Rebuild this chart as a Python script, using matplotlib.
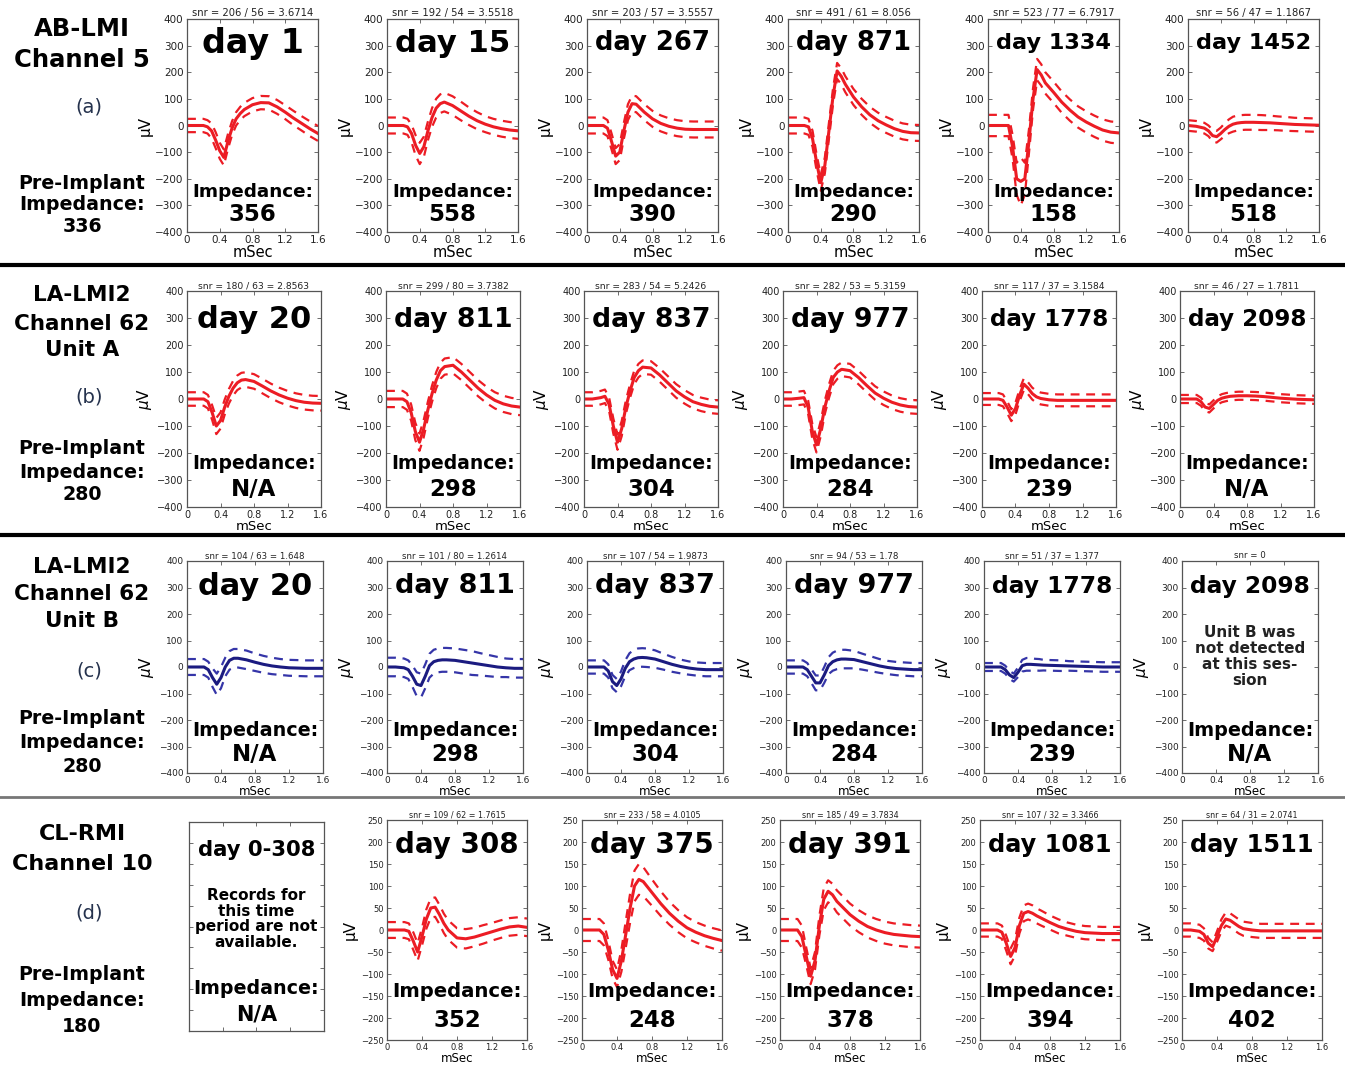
import matplotlib
matplotlib.use('Agg')
import matplotlib.pyplot as plt
from matplotlib.lines import Line2D

# time axis of the spike snippets (ms), shared by every panel
t_ms = [0, 0.1, 0.2, 0.25, 0.3, 0.35, 0.4, 0.45, 0.5, 0.55, 0.6, 0.65, 0.7,
        0.8, 0.9, 1.0, 1.1, 1.2, 1.3, 1.4, 1.5, 1.6]

# ---- (a) AB-LMI channel 5
a_days = ['day 1', 'day 15', 'day 267', 'day 871', 'day 1334', 'day 1452']
a_imp = ['356', '558', '390', '290', '158', '518']
a_snr = ['snr = 206 / 56 = 3.6714', 'snr = 192 / 54 = 3.5518', 'snr = 203 / 57 = 3.5557',
         'snr = 491 / 61 = 8.056', 'snr = 523 / 77 = 6.7917', 'snr = 56 / 47 = 1.1867']
a_mean = [
    [0, 0, 0, -5, -20, -55, -95, -120, -60, -10, 25, 45, 60, 78, 86, 85, 70, 50, 28, 8, -12, -30],
    [0, 0, 0, -5, -30, -75, -105, -80, -20, 30, 65, 82, 88, 75, 55, 35, 18, 5, -5, -12, -17, -20],
    [0, 0, 0, -10, -60, -115, -100, -20, 50, 82, 80, 65, 50, 25, 8, -3, -10, -14, -15, -15, -15, -15],
    [0, 0, 0, -5, -50, -140, -215, -150, -20, 110, 205, 185, 155, 107, 70, 40, 18, 2, -12, -22, -27, -28],
    [0, 0, 0, 0, -80, -200, -210, -200, -60, 100, 210, 190, 160, 125, 88, 58, 32, 13, -3, -17, -25, -28],
    [0, -3, -10, -20, -38, -42, -30, -15, -3, 5, 9, 11, 12, 12, 11, 10, 8, 6, 4, 3, 2, 1],
]
a_sd = [
    [25, 25, 25, 25, 28, 30, 30, 30, 28, 26, 25, 25, 25, 25, 25, 25, 26, 26, 27, 27, 28, 28],
    [30, 30, 30, 30, 33, 38, 40, 38, 35, 35, 35, 35, 35, 35, 35, 33, 32, 30, 30, 30, 30, 30],
    [30, 30, 30, 30, 30, 30, 30, 30, 30, 30, 30, 30, 30, 30, 30, 30, 30, 30, 30, 30, 30, 30],
    [30, 30, 30, 30, 30, 30, 30, 30, 30, 30, 30, 30, 30, 30, 30, 30, 30, 30, 30, 30, 30, 30],
    [40, 40, 40, 40, 45, 60, 90, 60, 45, 40, 40, 40, 40, 40, 40, 40, 40, 40, 40, 40, 40, 40],
    [20, 20, 20, 20, 22, 22, 22, 24, 26, 28, 28, 28, 28, 28, 28, 27, 26, 26, 25, 25, 25, 25],
]

# ---- (b) LA-LMI2 channel 62, unit A
b_days = ['day 20', 'day 811', 'day 837', 'day 977', 'day 1778', 'day 2098']
b_imp = ['N/A', '298', '304', '284', '239', 'N/A']
b_snr = ['snr = 180 / 63 = 2.8563', 'snr = 299 / 80 = 3.7382', 'snr = 283 / 54 = 5.2426',
         'snr = 282 / 53 = 5.3159', 'snr = 117 / 37 = 3.1584', 'snr = 46 / 27 = 1.7811']
b_mean = [
    [0, 0, 0, -10, -50, -100, -80, -30, 10, 40, 60, 70, 72, 65, 48, 30, 15, 3, -6, -12, -15, -16],
    [0, 0, 0, -10, -50, -120, -160, -110, -40, 20, 70, 105, 120, 125, 100, 70, 40, 15, -5, -18, -26, -30],
    [0, 0, 5, 10, -20, -100, -160, -110, -30, 30, 80, 105, 118, 115, 90, 60, 30, 8, -10, -20, -27, -30],
    [0, 0, 3, 5, -30, -120, -170, -110, -30, 30, 80, 100, 110, 105, 80, 50, 22, 3, -12, -22, -28, -30],
    [0, 0, 0, -5, -30, -60, -35, 15, 55, 40, 20, 8, 2, -3, -5, -5, -5, -5, -5, -5, -5, -5],
    [0, 0, 0, -10, -30, -35, -20, -5, 3, 7, 10, 11, 12, 12, 11, 9, 6, 3, 1, -1, -2, -3],
]
b_sd = [
    [25, 25, 25, 25, 27, 30, 30, 28, 27, 27, 27, 27, 27, 27, 27, 27, 27, 27, 27, 27, 27, 27],
    [30, 30, 30, 30, 30, 32, 32, 32, 30, 30, 30, 30, 30, 30, 30, 30, 30, 30, 30, 30, 30, 30],
    [25, 25, 25, 25, 25, 28, 28, 28, 25, 25, 25, 25, 25, 25, 25, 25, 25, 25, 25, 25, 25, 25],
    [25, 25, 25, 25, 25, 28, 28, 28, 25, 25, 25, 25, 25, 25, 25, 25, 25, 25, 25, 25, 25, 25],
    [22, 22, 22, 22, 22, 22, 22, 22, 22, 22, 22, 22, 22, 22, 22, 22, 22, 22, 22, 22, 22, 22],
    [15, 15, 15, 15, 15, 15, 15, 15, 15, 15, 15, 15, 15, 15, 15, 15, 15, 15, 15, 15, 15, 15],
]

# ---- (c) LA-LMI2 channel 62, unit B (last session: unit not found)
c_days = ['day 20', 'day 811', 'day 837', 'day 977', 'day 1778', 'day 2098']
c_imp = ['N/A', '298', '304', '284', '239', 'N/A']
c_snr = ['snr = 104 / 63 = 1.648', 'snr = 101 / 80 = 1.2614', 'snr = 107 / 54 = 1.9873',
         'snr = 94 / 53 = 1.78', 'snr = 51 / 37 = 1.377', 'snr = 0']
c_mean = [
    [0, 0, 0, -10, -40, -65, -40, 0, 25, 33, 33, 30, 27, 18, 10, 4, 0, -3, -4, -5, -5, -5],
    [0, 0, -3, -10, -35, -65, -70, -35, 5, 20, 25, 27, 27, 25, 20, 15, 10, 5, 0, -3, -5, -5],
    [0, 0, 0, -15, -55, -70, -45, -5, 20, 30, 35, 36, 35, 30, 20, 10, 2, -4, -8, -10, -10, -10],
    [0, 0, 0, -10, -35, -60, -60, -30, 5, 20, 27, 30, 30, 28, 20, 12, 4, -2, -6, -8, -10, -10],
    [0, 0, 0, -10, -30, -40, -20, 5, 10, 10, 9, 8, 7, 6, 5, 4, 3, 2, 1, 0, 0, 0],
    None,
]
c_sd = [
    [30, 30, 30, 30, 35, 40, 40, 35, 35, 35, 35, 35, 35, 33, 32, 31, 30, 30, 30, 30, 30, 30],
    [35, 35, 35, 35, 40, 45, 45, 45, 45, 45, 45, 45, 45, 45, 45, 45, 42, 40, 38, 35, 35, 35],
    [25, 25, 25, 25, 25, 25, 28, 30, 32, 34, 35, 35, 35, 33, 30, 28, 26, 25, 25, 25, 25, 25],
    [25, 25, 25, 25, 26, 28, 28, 30, 32, 34, 35, 35, 35, 33, 30, 28, 26, 25, 25, 25, 25, 25],
    [15, 15, 15, 15, 15, 15, 18, 22, 24, 24, 22, 22, 20, 20, 20, 18, 18, 18, 18, 18, 18, 18],
    None,
]

# ---- (d) CL-RMI channel 10 (first period has no recordings)
d_days = ['day 0-308', 'day 308', 'day 375', 'day 391', 'day 1081', 'day 1511']
d_imp = ['N/A', '352', '248', '378', '394', '402']
d_snr = ['', 'snr = 109 / 62 = 1.7615', 'snr = 233 / 58 = 4.0105', 'snr = 185 / 49 = 3.7834',
         'snr = 107 / 32 = 3.3466', 'snr = 64 / 31 = 2.0741']
d_mean = [
    None,
    [0, 0, 0, -3, -25, -50, -15, 25, 50, 52, 35, 15, 0, -18, -20, -16, -10, -4, 2, 7, 9, 6],
    [0, 0, 0, -10, -45, -90, -110, -70, -10, 50, 100, 115, 110, 85, 60, 38, 20, 5, -5, -13, -19, -24],
    [0, 0, 0, -15, -60, -105, -70, 10, 70, 88, 80, 65, 55, 35, 20, 8, 0, -6, -10, -12, -14, -15],
    [0, 0, 0, -5, -30, -60, -40, 10, 38, 42, 38, 32, 27, 17, 8, 2, -3, -6, -7, -8, -8, -8],
    [0, 0, -3, -10, -30, -38, -15, 10, 25, 22, 15, 8, 3, 0, -2, -2, -2, -2, -2, -2, -2, -2],
]
d_sd = [
    None,
    [18, 18, 18, 18, 20, 20, 20, 22, 22, 22, 22, 22, 22, 22, 22, 21, 21, 20, 20, 20, 20, 20],
    [25, 25, 25, 25, 22, 20, 20, 25, 30, 33, 35, 35, 33, 30, 28, 26, 25, 24, 23, 23, 23, 23],
    [25, 25, 25, 25, 20, 18, 20, 22, 25, 25, 25, 25, 25, 25, 25, 25, 25, 25, 25, 25, 25, 25],
    [15, 15, 15, 15, 17, 18, 18, 18, 18, 18, 18, 17, 17, 16, 16, 15, 15, 15, 15, 15, 15, 15],
    [15, 15, 15, 14, 12, 10, 12, 14, 15, 16, 16, 16, 16, 16, 16, 16, 16, 16, 16, 16, 16, 16],
]

row_names = [['AB-LMI', 'Channel 5'],
             ['LA-LMI2', 'Channel 62', 'Unit A'],
             ['LA-LMI2', 'Channel 62', 'Unit B'],
             ['CL-RMI', 'Channel 10']]
row_tags = ['(a)', '(b)', '(c)', '(d)']
pre_imp = ['336', '280', '280', '180']

missing_b = 'Unit B was\nnot detected\nat this ses-\nsion'
missing_d = 'Records for\nthis time\nperiod are not\navailable.'

RED = '#ec1c24'
BLUE = '#1b1b80'
BLUE_D = '#3535a8'

W, H = 1345, 1066
fig = plt.figure(figsize=(W / 100, H / 100), dpi=100)
renderer = fig.canvas.get_renderer()


def px_axes(left, top, width, bottom):
    # pixel box (top-left origin) -> figure axes
    return fig.add_axes([left / W, 1 - bottom / H, width / W, (bottom - top) / H])


def fit_text(ax, y, s, max_pt, max_w, **kw):
    txt = ax.text(0.5, y, s, transform=ax.transAxes, ha='center', va='center',
                  fontsize=max_pt, fontweight='bold', **kw)
    w = txt.get_window_extent(renderer=renderer).width
    if w > max_w:
        txt.set_fontsize(max_pt * max_w / w)
    return txt


def fig_text(x, y, s, **kw):
    fig.text(x / W, 1 - y / H, s, ha='center', va='center', **kw)


# per row: axes top/bottom px, axes lefts, width, y range, y step, font sizes, text heights
layout = [
    dict(top=19, bottom=232, lefts=[187, 387, 587, 788, 988, 1188], width=131,
         ylim=400, ystep=100, tick=7.5, xlab=10.5, snr=7.2, ylab='μV', day_pt=24,
         day_y=0.885, imp_y=(0.19, 0.08)),
    dict(top=291, bottom=507, lefts=[187, 386, 584, 783, 982, 1180], width=134,
         ylim=400, ystep=100, tick=7, xlab=9.5, snr=6.6, ylab='$\\mu$V', day_pt=22,
         day_y=0.866, imp_y=(0.20, 0.08)),
    dict(top=561, bottom=773, lefts=[187, 387, 587, 786, 984, 1182], width=136,
         ylim=400, ystep=100, tick=6.5, xlab=8.5, snr=6.2, ylab='$\\mu$V', day_pt=22,
         day_y=0.88, imp_y=(0.20, 0.085)),
    dict(top=820, bottom=1040, lefts=[189, 387, 582, 780, 980, 1182], width=140,
         ylim=250, ystep=50, tick=6, xlab=8.5, snr=5.8, ylab='μV', day_pt=22,
         day_y=0.886, imp_y=(0.22, 0.09)),
]

rows = [
    (a_days, a_imp, a_snr, a_mean, a_sd, RED, RED),
    (b_days, b_imp, b_snr, b_mean, b_sd, RED, RED),
    (c_days, c_imp, c_snr, c_mean, c_sd, BLUE, BLUE_D),
    (d_days, d_imp, d_snr, d_mean, d_sd, RED, RED),
]

for r, (days, imp, snr, means, sds, col, col_d) in enumerate(rows):
    L = layout[r]
    for i in range(6):
        if r == 3 and i == 0:
            # empty placeholder box for the period without recordings
            ax = px_axes(189, 822, 135, 1031)
        else:
            ax = px_axes(L['lefts'][i], L['top'], L['width'], L['bottom'])
        ax.set_xlim(0, 1.6)
        ax.set_ylim(-L['ylim'], L['ylim'])
        ax.set_xticks([0, 0.4, 0.8, 1.2, 1.6])
        ax.set_xticklabels(['0', '0.4', '0.8', '1.2', '1.6'])
        ax.set_yticks(range(-L['ylim'], L['ylim'] + 1, L['ystep']))
        ax.tick_params(direction='in', length=3, width=0.6, top=True, right=True,
                       labelsize=L['tick'], labelcolor='#222222', color='#555555', pad=2.5)
        for s in ax.spines.values():
            s.set_color('#555555')
            s.set_linewidth(0.9)

        w_px = ax.get_window_extent(renderer=renderer).width
        if r == 3 and i == 0:
            ax.tick_params(labelleft=False, labelbottom=False)
            fit_text(ax, 0.866, days[i], 22, 0.87 * w_px)
            ax.text(0.5, 0.535, missing_d, transform=ax.transAxes, ha='center', va='center',
                    fontsize=11, fontweight='bold', linespacing=1.05)
            fit_text(ax, 0.205, 'Impedance:', 15, 0.93 * w_px)
            fit_text(ax, 0.08, imp[i], 15, 0.93 * w_px)
            continue

        ax.set_ylabel(L['ylab'], fontsize=11, labelpad=2)
        ax.set_xlabel('mSec', fontsize=L['xlab'], labelpad=0)
        ax.set_title(snr[i], fontsize=L['snr'], pad=2, color='#222222')

        if means[i] is not None:
            m = means[i]
            sd = sds[i]
            upper = [m[k] + sd[k] for k in range(len(m))]
            lower = [m[k] - sd[k] for k in range(len(m))]
            ax.plot(t_ms, upper, color=col_d, lw=1.6, dashes=(4, 3))
            ax.plot(t_ms, lower, color=col_d, lw=1.6, dashes=(4, 3))
            ax.plot(t_ms, m, color=col, lw=2.2)
        else:
            ax.text(0.5, 0.55, missing_b, transform=ax.transAxes, ha='center', va='center',
                    fontsize=11, fontweight='bold', linespacing=1.1, color='#222222')

        fit_text(ax, L['day_y'], days[i], L['day_pt'], 0.88 * w_px)
        fit_text(ax, L['imp_y'][0], 'Impedance:', 16.5, 0.92 * w_px)
        fit_text(ax, L['imp_y'][1], imp[i], 16.5, 0.92 * w_px)

# left column: array / channel, panel tag, pre-implant impedance
name_y = [[29, 60], [295, 324, 350], [567, 594, 621], [834, 864]]
tag_y = [107, 397, 671, 913]
pre_y = [[183, 205, 226], [449, 472, 494], [719, 743, 767], [975, 1000, 1026]]
name_pt = [17.5, 15.5, 15.5, 16]
for r in range(4):
    for s, y in zip(row_names[r], name_y[r]):
        fig_text(82, y, s, fontsize=name_pt[r], fontweight='bold')
    fig_text(89, tag_y[r], row_tags[r], fontsize=14, color='#25324d')
    for s, y in zip(['Pre-Implant', 'Impedance:', pre_imp[r]], pre_y[r]):
        fig_text(82, y, s, fontsize=13.7, fontweight='bold')

# separators between the four recordings
for y, c, lw in [(265, 'black', 3), (535, 'black', 3), (797, '#777777', 2)]:
    fig.add_artist(Line2D([0, 1], [1 - y / H, 1 - y / H], color=c, lw=lw))

fig.savefig('out.png', dpi=100, facecolor='white')
